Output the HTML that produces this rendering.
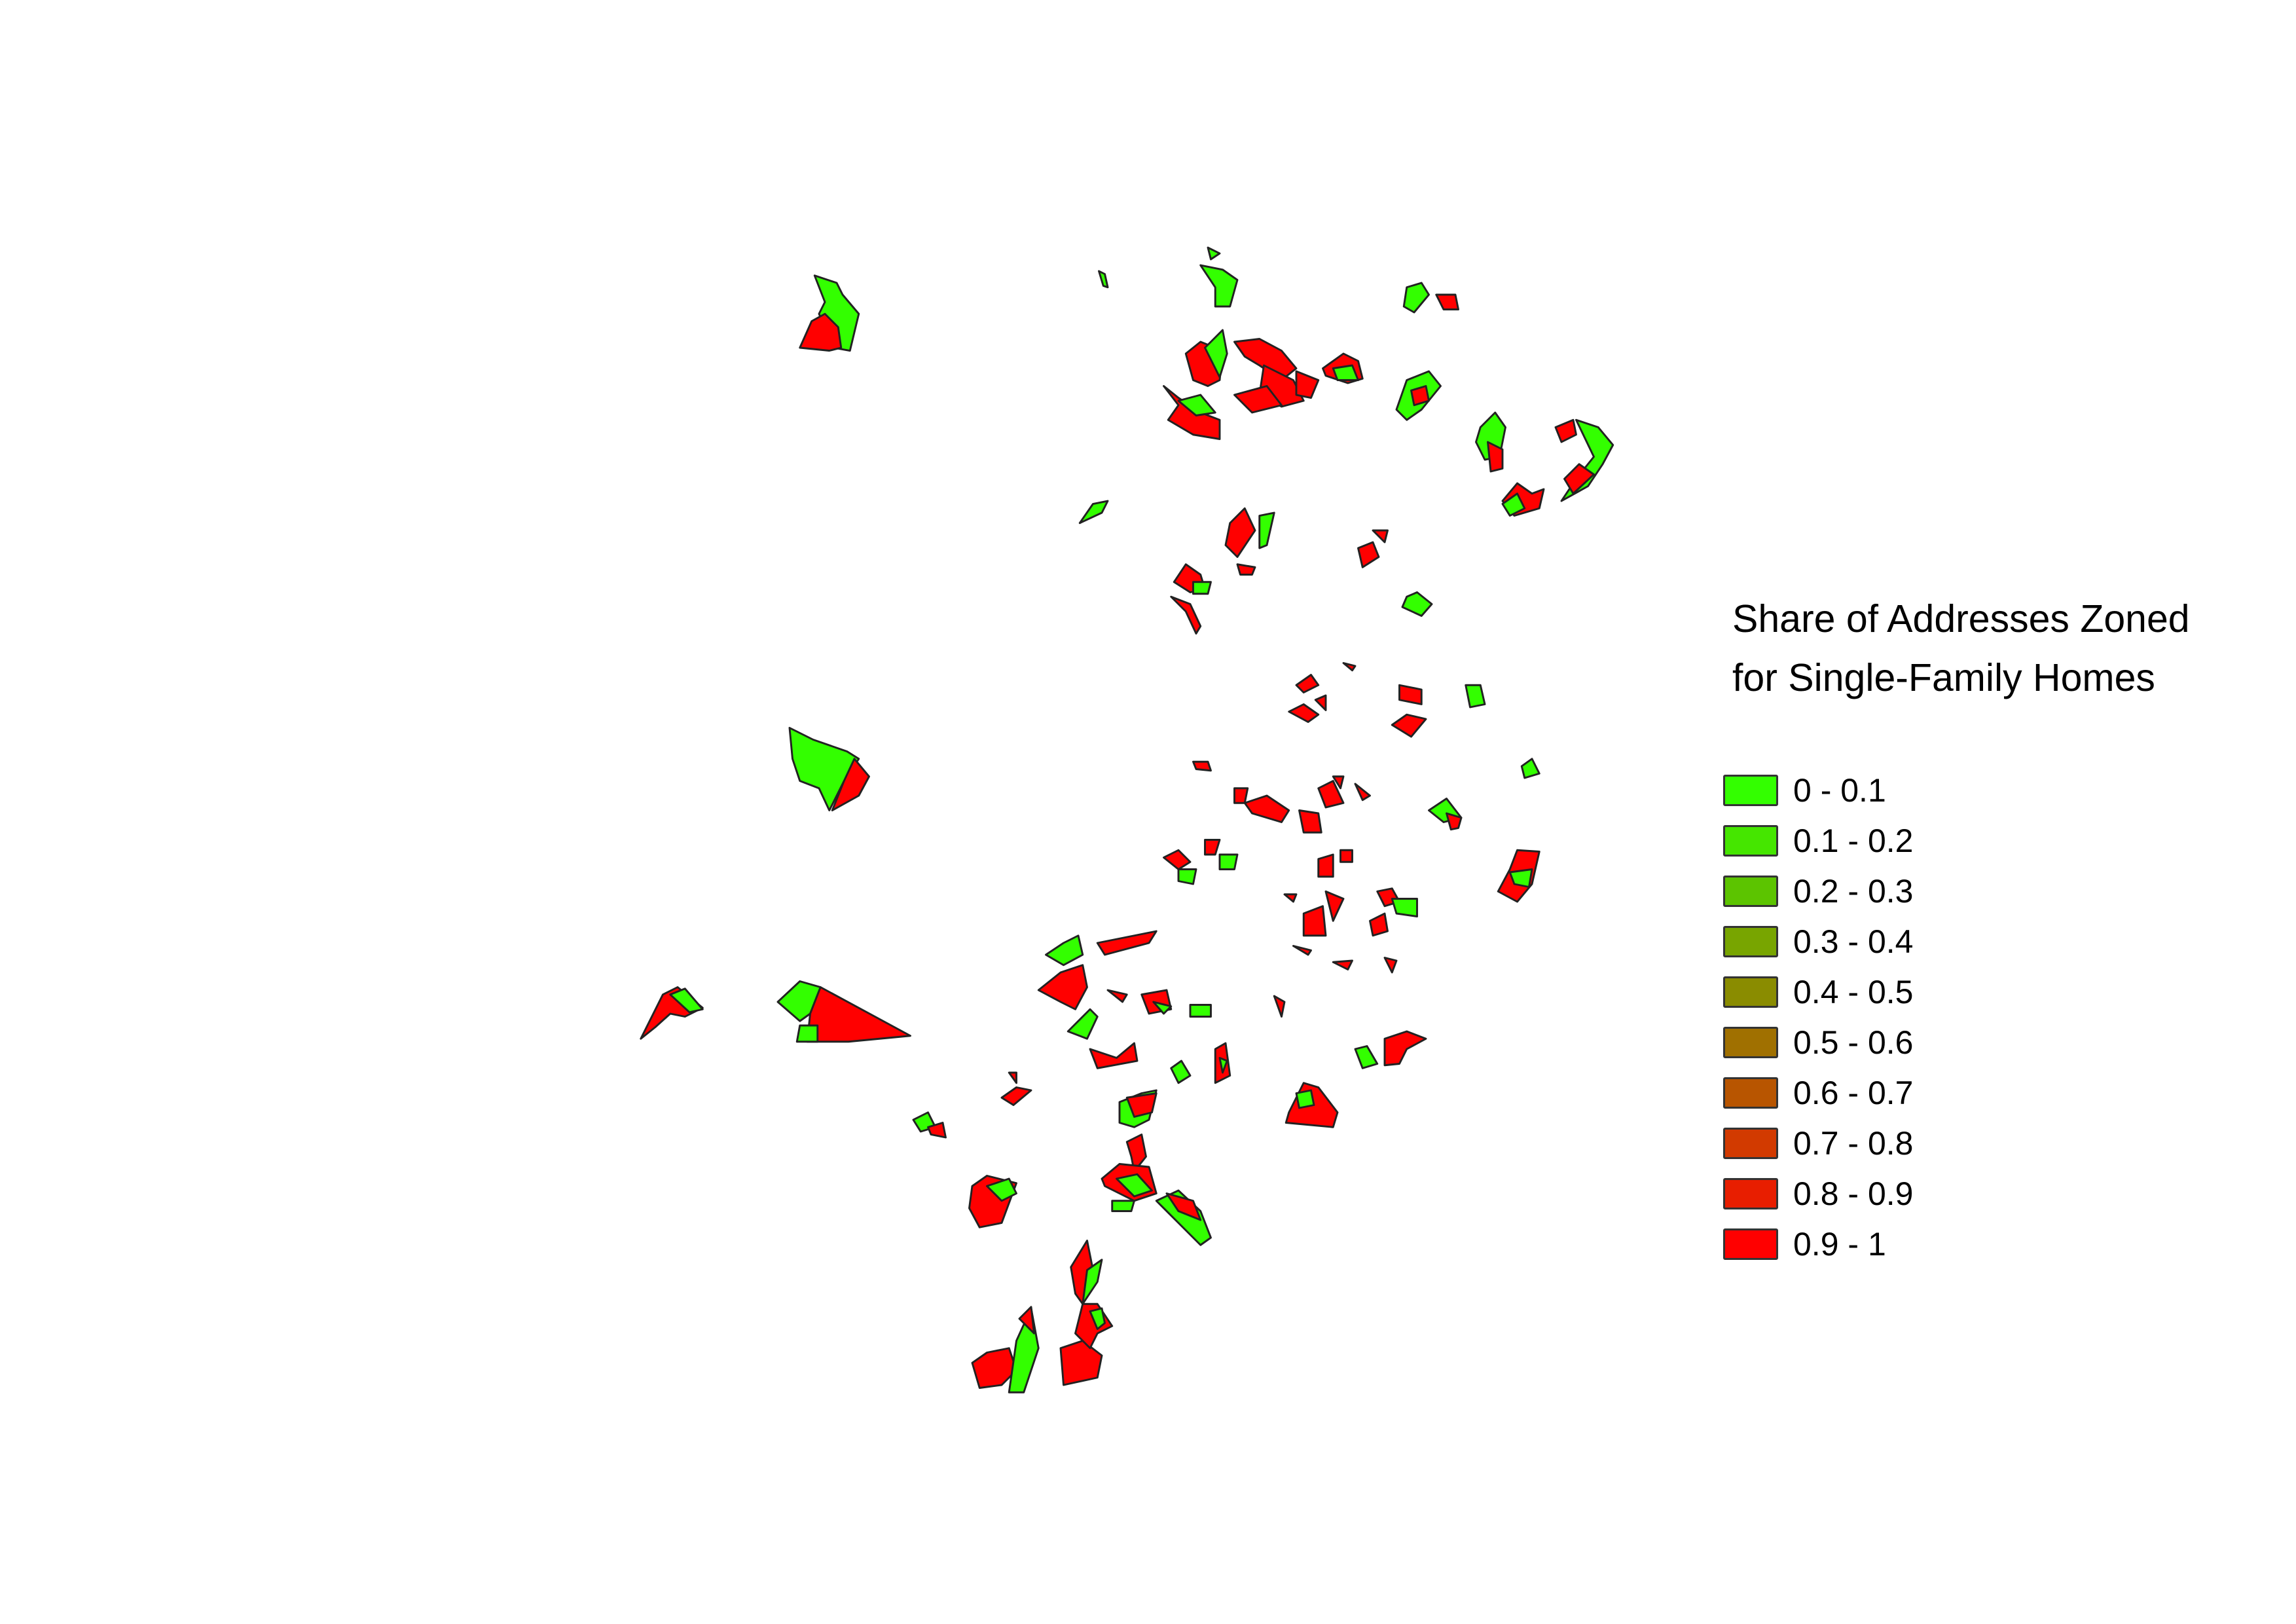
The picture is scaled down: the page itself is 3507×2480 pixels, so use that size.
<!DOCTYPE html>
<html><head><meta charset="utf-8">
<style>
html,body{margin:0;padding:0;background:#fff;}
#wrap{position:relative;width:3507px;height:2480px;overflow:hidden;font-family:"Liberation Sans",sans-serif;}
#map{position:absolute;left:0;top:0;}
.title{position:absolute;left:2646px;top:900px;font-size:59px;line-height:90px;color:#000;white-space:nowrap;}
.item{position:absolute;left:2632px;height:48px;}
.sw{position:absolute;left:0;top:0;width:78px;height:42px;border:3px solid #333;border-radius:3px;}
.lb{position:absolute;left:107px;top:-3px;font-size:50px;line-height:54px;white-space:nowrap;color:#000;}
</style></head>
<body>
<div id="wrap">
<svg id="map" width="3507" height="2480" viewBox="0 0 1558.67 1102.22"></svg>
<div class="title">Share of Addresses Zoned<br>for Single-Family Homes</div>
<div id="legend"></div>
</div>
<script>
const classLabels = ["0 - 0.1","0.1 - 0.2","0.2 - 0.3","0.3 - 0.4","0.4 - 0.5","0.5 - 0.6","0.6 - 0.7","0.7 - 0.8","0.8 - 0.9","0.9 - 1"];
const classColors = ["#33ff00","#45e600","#5cc400","#78a500","#8a8c00","#a07000","#b85500","#d23a00","#e81e00","#ff0000"];
const shapes = [
"553,187 568,192 572,200 583,213 577,238 566,236 560,222 556,213 560,205",
"543,236 551,218 560,213 569,222 571,236 563,238",
"536,494 552,502 575,510 583,515 573,530 563,550 556,535 543,530 538,515",
"565,550 573,530 580,515 590,527 583,540",
"528,680 543,666 557,670 550,688 543,693",
"557,670 618,703 576,707 548,707 550,688",
"543,696 555,696 555,707 541,707",
"435,705 450,675 460,670 477,684 465,690 455,688 445,697",
"455,675 465,671 477,685 468,687",
"815,180 830,183 840,190 835,208 825,208 825,195",
"820,168 828,172 822,176",
"746,184 750,186 752,195 749,194",
"805,240 815,232 830,238 828,258 820,262 810,258",
"818,236 830,224 833,240 828,256",
"838,232 855,230 870,238 880,250 870,258 855,248 845,242",
"858,248 878,258 885,272 870,276 855,268",
"838,268 860,262 870,275 850,280",
"880,252 895,258 890,270 880,268",
"790,262 800,270 815,280 828,285 828,298 810,295 793,285 800,275",
"800,272 815,268 825,280 812,282",
"898,250 912,240 922,245 925,257 915,260 900,255",
"905,250 918,248 922,258 908,258",
"955,195 965,192 970,200 960,212 953,208",
"975,200 988,200 990,210 980,210",
"955,258 970,252 978,262 965,278 955,285 948,278",
"958,265 968,262 970,272 960,275",
"1005,290 1015,280 1022,290 1018,310 1008,312 1002,300",
"1010,300 1020,305 1020,318 1012,320",
"1020,340 1030,328 1040,335 1048,332 1045,345 1028,350",
"1020,342 1030,335 1035,345 1025,350",
"1070,285 1085,290 1095,302 1088,315 1078,330 1060,340 1070,325 1082,310",
"1062,325 1072,315 1082,322 1068,335",
"1056,290 1068,285 1070,295 1060,300",
"733,355 742,342 752,340 748,348",
"835,355 845,345 852,360 840,378 832,370",
"855,350 865,348 860,370 855,372",
"840,383 852,385 850,390 842,390",
"922,372 932,368 936,378 925,385",
"932,360 942,360 940,368",
"797,395 805,383 815,390 818,400 808,402",
"810,395 822,395 820,403 810,403",
"795,405 808,410 815,425 812,430 805,415",
"955,405 962,402 972,410 965,418 952,412",
"880,465 890,458 895,465 885,470",
"875,483 885,478 895,485 888,490",
"912,450 920,452 918,455",
"950,465 965,468 965,478 950,475",
"945,492 955,485 968,488 958,500",
"995,465 1005,465 1008,478 998,480",
"893,475 900,472 900,482",
"1033,520 1040,515 1045,525 1035,528",
"810,517 820,517 822,523 812,522",
"838,535 847,535 845,545 838,545",
"845,545 860,540 875,550 870,558 850,552",
"882,550 895,552 897,565 885,565",
"895,535 905,530 912,545 900,548",
"905,527 912,527 910,535",
"920,532 930,540 925,543",
"970,550 982,542 992,555 980,558",
"982,552 992,555 990,562 985,563",
"1030,577 1045,578 1040,600 1030,612 1017,605 1025,590",
"1025,592 1040,590 1038,602 1028,600",
"790,582 800,577 808,585 800,590",
"800,590 812,590 810,600 800,598",
"818,570 828,570 825,580 818,580",
"828,580 840,580 838,590 828,590",
"895,583 905,580 905,595 895,595",
"910,577 918,577 918,585 910,585",
"885,620 898,615 900,635 885,635",
"900,605 912,610 905,625",
"935,605 945,603 950,612 940,615",
"930,625 940,620 942,632 932,635",
"945,610 962,610 962,622 948,620",
"878,642 890,645 888,648",
"905,653 918,652 915,658",
"940,650 948,652 945,660",
"872,607 880,607 878,612",
"705,672 720,660 735,655 738,670 730,685 720,680",
"710,648 722,640 732,635 735,648 722,655",
"745,640 785,632 780,640 750,648",
"740,685 745,690 738,705 725,700",
"740,712 758,718 770,708 772,720 745,725",
"752,672 765,675 762,680",
"775,675 792,672 795,685 780,688",
"783,680 795,683 790,688",
"808,682 822,682 822,690 808,690",
"795,725 802,720 808,730 800,735",
"825,712 832,708 835,730 825,735",
"828,718 833,720 830,728",
"865,676 872,680 870,690",
"875,755 885,735 895,738 908,755 905,765 873,762",
"880,742 890,740 892,750 882,752",
"920,712 928,710 935,722 925,725",
"940,705 955,700 968,705 955,712 950,722 940,723",
"680,745 690,738 700,740 688,750",
"685,728 690,728 690,735",
"620,760 630,755 635,765 625,768",
"630,765 640,762 642,772 632,770",
"660,805 670,798 690,803 680,830 665,833 658,820",
"670,805 685,800 690,810 680,815",
"760,748 775,742 785,740 780,760 770,765 760,762",
"765,745 785,742 782,755 770,758",
"765,775 775,770 778,785 770,795 768,785",
"748,800 760,790 780,792 785,810 770,815 750,805",
"758,800 772,797 782,808 770,812",
"755,815 770,815 768,822 755,822",
"785,815 800,808 815,822 822,840 815,845 800,830",
"792,810 810,815 815,828 800,822",
"727,860 738,842 742,862 735,885 730,878",
"738,862 748,855 745,870 735,885",
"660,925 670,918 685,915 690,930 680,940 665,942",
"690,910 700,888 705,915 695,945 685,945",
"692,895 700,887 702,905",
"720,915 735,910 748,920 745,935 722,940",
"735,885 745,885 755,900 745,905 740,915 730,905",
"740,890 748,888 750,898 745,902"
];
const shares = [
0.05,0.95,0.05,0.95,0.05,0.95,0.05,0.95,0.05,0.05,
0.05,0.05,0.95,0.05,0.95,0.95,0.95,0.95,0.95,0.05,
0.95,0.05,0.05,0.95,0.05,0.95,0.05,0.95,0.95,0.05,
0.05,0.95,0.95,0.05,0.95,0.05,0.95,0.95,0.95,0.95,
0.05,0.95,0.05,0.95,0.95,0.95,0.95,0.95,0.05,0.95,
0.05,0.95,0.95,0.95,0.95,0.95,0.95,0.95,0.05,0.95,
0.95,0.05,0.95,0.05,0.95,0.05,0.95,0.95,0.95,0.95,
0.95,0.95,0.05,0.95,0.95,0.95,0.95,0.95,0.05,0.95,
0.05,0.95,0.95,0.95,0.05,0.05,0.05,0.95,0.05,0.95,
0.95,0.05,0.05,0.95,0.95,0.95,0.05,0.95,0.95,0.05,
0.05,0.95,0.95,0.95,0.05,0.05,0.05,0.95,0.95,0.05,
0.95,0.05,0.95,0.95,0.95,0.05
];
function colorFor(v){let i=Math.min(9,Math.floor(v*10));return classColors[i];}
const svg=document.getElementById('map');
const NS='http://www.w3.org/2000/svg';
shapes.forEach((pts,i)=>{
  const p=document.createElementNS(NS,'polygon');
  p.setAttribute('points',pts);
  p.setAttribute('fill',colorFor(shares[i]!==undefined?shares[i]:0.95));
  p.setAttribute('stroke','#222');
  p.setAttribute('stroke-width','1.3');
  p.setAttribute('stroke-linejoin','round');
  
  
  svg.appendChild(p);
});
const lg=document.getElementById('legend');
classLabels.forEach((t,i)=>{
  const d=document.createElement('div');
  d.className='item';
  d.style.top=(1183+i*77)+'px';
  
  
  const s=document.createElement('div');s.className='sw';s.style.background=classColors[i];
  
  
  const l=document.createElement('div');l.className='lb';l.textContent=t;
  
  
  d.appendChild(s);d.appendChild(l);lg.appendChild(d);
});
</script>
</body></html>
